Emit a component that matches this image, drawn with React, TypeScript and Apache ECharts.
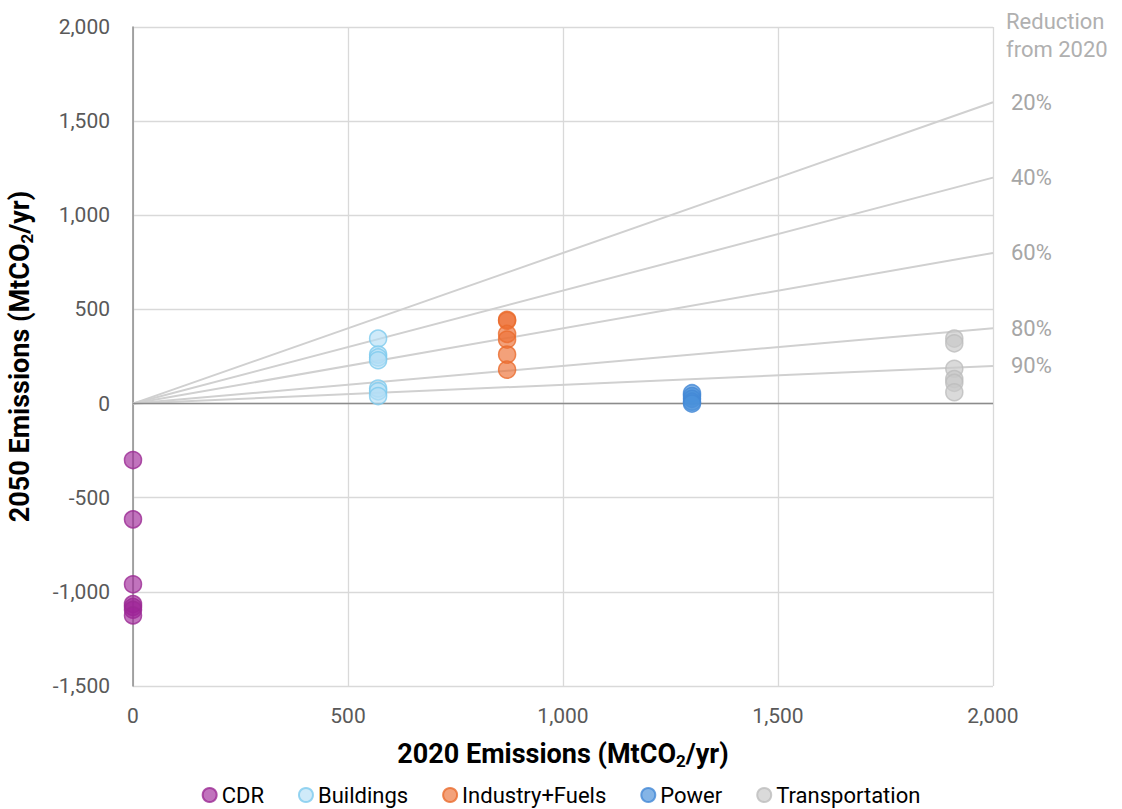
import React, { useEffect, useRef } from "react";
import * as echarts from "echarts";

const cdr2050 = [-300, -615, -960, -1065, -1080, -1095, -1125];
const buildings2050 = [345, 260, 245, 230, 80, 65, 40];
const industry2050 = [445, 440, 370, 340, 260, 180];
const power2050 = [55, 40, 25, 10, 0];
const transport2050 = [345, 320, 185, 130, 110, 60];

const x2020 = { CDR: 0, Buildings: 570, Industry: 870, Power: 1300, Transportation: 1910 };

const reductions = [20, 40, 60, 80, 90];
const xMax = 2000;

const FONT = "Roboto";

export default function App() {
  const ref = useRef<HTMLDivElement>(null);
  useEffect(() => {
    if (!ref.current) return;
    const chart = echarts.init(ref.current, null, { renderer: "svg" });

    const mk = (name: string, x: number, ys: number[], fill: string, border: string) => ({
      name,
      type: "scatter",
      symbol: "circle",
      symbolSize: 17,
      data: ys.map((y) => [x, y]),
      itemStyle: { color: fill, borderColor: border, borderWidth: 1.5 },
      emphasis: { disabled: true },
      z: 5,
    });

    const lineSeries = reductions.map((r) => ({
      name: "r" + r,
      type: "line",
      data: [
        [0, 0],
        [xMax, (xMax * (100 - r)) / 100],
      ],
      symbol: "none",
      lineStyle: { color: "#d0d0d0", width: 2 },
      silent: true,
      z: 2,
      endLabel: {
        show: true,
        formatter: r + "%",
        color: "#a6a6a6",
        fontSize: 22,
        fontFamily: FONT,
        distance: 18,
      },
    }));

    const subRich = {
      sub: { fontSize: 17, fontWeight: "bold", fontFamily: FONT, color: "#000", padding: [14, 0, 0, 0] },
    };

    chart.setOption({
      animation: false,
      textStyle: { fontFamily: FONT },
      grid: { left: 133, right: 129, top: 27, bottom: 123, containLabel: false, outerBoundsMode: "none" },
      xAxis: {
        type: "value",
        min: 0,
        max: 2000,
        interval: 500,
        axisLine: { onZero: false, show: false },
        axisTick: { show: false },
        splitLine: { lineStyle: { color: "#d9d9d9", width: 1.3 } },
        axisLabel: {
          color: "#595959",
          fontSize: 21,
          margin: 19,
          formatter: (v: number) => v.toLocaleString("en-US"),
        },
        name: "2020 Emissions (MtCO{sub|2}/yr)",
        nameLocation: "middle",
        nameGap: 52,
        nameTextStyle: { fontSize: 27, fontWeight: "bold", color: "#000", rich: subRich },
      },
      yAxis: {
        type: "value",
        min: -1500,
        max: 2000,
        interval: 500,
        axisLine: { show: true, lineStyle: { color: "#8c8c8c", width: 1.5 } },
        axisTick: { show: false },
        splitLine: { lineStyle: { color: "#d9d9d9", width: 1.3 } },
        axisLabel: {
          color: "#595959",
          fontSize: 21,
          margin: 23,
          formatter: (v: number) => v.toLocaleString("en-US"),
        },
        name: "2050 Emissions (MtCO{sub|2}/yr)",
        nameLocation: "middle",
        nameGap: 98,
        nameTextStyle: { fontSize: 27, fontWeight: "bold", color: "#000", rich: subRich },
      },
      legend: {
        data: ["CDR", "Buildings", "Industry+Fuels", "Power", "Transportation"],
        top: 784,
        left: "center",
        padding: 0,
        itemWidth: 14,
        itemHeight: 14,
        itemGap: 34,
        textStyle: { fontSize: 22, lineHeight: 22, color: "#000", fontFamily: FONT },
        icon: "circle",
      },
      graphic: [
        {
          type: "text",
          left: 1006,
          top: 7,
          style: {
            text: "Reduction\nfrom 2020",
            fill: "#b0b0b0",
            fontSize: 22,
            fontFamily: FONT,
            lineHeight: 28,
          },
        },
      ],
      series: [
        ...lineSeries,
        {
          name: "zero",
          type: "line",
          data: [
            [0, 0],
            [xMax, 0],
          ],
          symbol: "none",
          lineStyle: { color: "#8c8c8c", width: 1.5 },
          silent: true,
          z: 3,
        },
        mk("CDR", x2020.CDR, cdr2050, "rgba(158,36,152,0.8)", "#9b2a94"),
        mk("Buildings", x2020.Buildings, buildings2050, "rgba(180,222,245,0.8)", "#7ecaee"),
        mk("Industry+Fuels", x2020.Industry, industry2050, "rgba(236,112,52,0.82)", "#ea6c2d"),
        mk("Power", x2020.Power, power2050, "rgba(74,144,218,0.85)", "#4488d6"),
        mk("Transportation", x2020.Transportation, transport2050, "rgba(200,200,200,0.85)", "#bdbdbd"),
      ],
    });
    return () => chart.dispose();
  }, []);
  return (
    <div
      ref={ref}
      style={{ position: "fixed", left: 0, top: 0, width: 1122, height: 809, background: "#fff" }}
    />
  );
}
